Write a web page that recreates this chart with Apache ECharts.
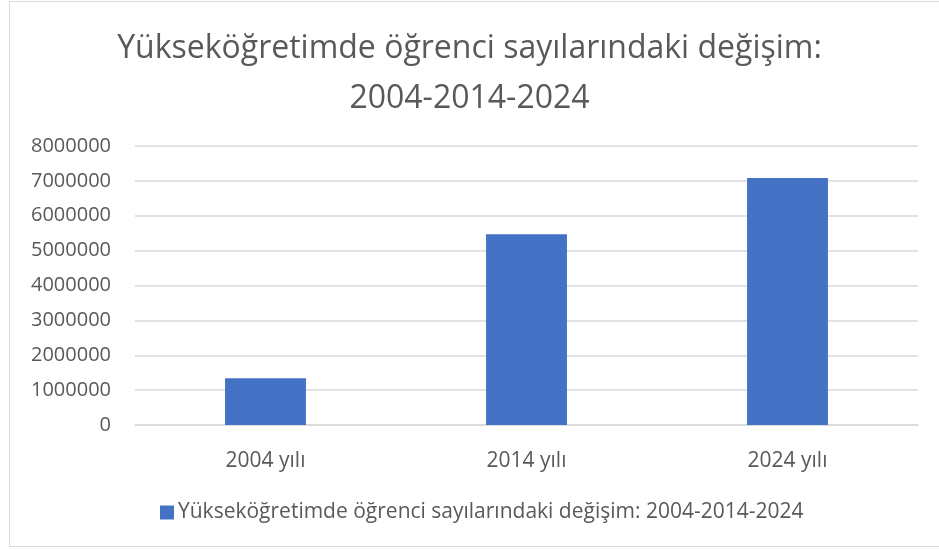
<!DOCTYPE html>
<html>
<head>
<meta charset="utf-8">
<title>Yükseköğretimde öğrenci sayıları</title>
<script src="https://cdn.jsdelivr.net/npm/echarts@6/dist/echarts.min.js"></script>
<style>
  html, body { margin: 0; padding: 0; background: #fff; }
  #chart { width: 939px; height: 550px; }
</style>
</head>
<body>
<div id="chart"></div>
<script>
// veriler
const categories = ['2004 yılı', '2014 yılı', '2024 yılı']
const ogrenciSayisi = [1340000, 5470000, 7080000]
const seriesName = 'Yükseköğretimde öğrenci sayılarındaki değişim: 2004-2014-2024'
const titleText = 'Yükseköğretimde öğrenci sayılarındaki değişim:\n2004-2014-2024'

const font = '"Open Sans", sans-serif'
const textColor = '#595959'

const chart = echarts.init(document.getElementById('chart'))
chart.setOption({
  animation: false,
  textStyle: { fontFamily: font },
  // dış çerçeve
  graphic: [{
    type: 'rect',
    shape: { x: 9.5, y: 1.5, width: 1000, height: 545 },
    style: { fill: 'none', stroke: '#d9d9d9', lineWidth: 1 },
    silent: true
  }],
  title: {
    text: titleText,
    left: 'center',
    top: 19,
    textStyle: {
      color: textColor,
      fontSize: 32,
      fontWeight: 'normal',
      lineHeight: 50,
      fontFamily: font
    }
  },
  legend: {
    bottom: 22,
    left: 155,
    itemWidth: 14,
    itemHeight: 14,
    itemGap: 4,
    icon: 'rect',
    textStyle: { color: textColor, fontSize: 21, fontFamily: font, padding: [0, 0, 0, -1] }
  },
  grid: { left: 135, right: 21, top: 146, bottom: 125 },
  xAxis: {
    type: 'category',
    data: categories,
    axisLine: { lineStyle: { color: '#d9d9d9', width: 1.5 } },
    axisTick: { show: false },
    axisLabel: { color: textColor, fontSize: 21, margin: 26 }
  },
  yAxis: {
    type: 'value',
    min: 0,
    max: 8000000,
    interval: 1000000,
    axisLine: { show: false },
    axisTick: { show: false },
    axisLabel: { color: textColor, fontSize: 20, margin: 24, formatter: v => String(v) },
    splitLine: { lineStyle: { color: '#d9d9d9', width: 1.5 } }
  },
  series: [{
    name: seriesName,
    type: 'bar',
    data: ogrenciSayisi,
    barWidth: '31%',
    itemStyle: { color: '#4472C4' }
  }]
})
</script>
</body>
</html>
